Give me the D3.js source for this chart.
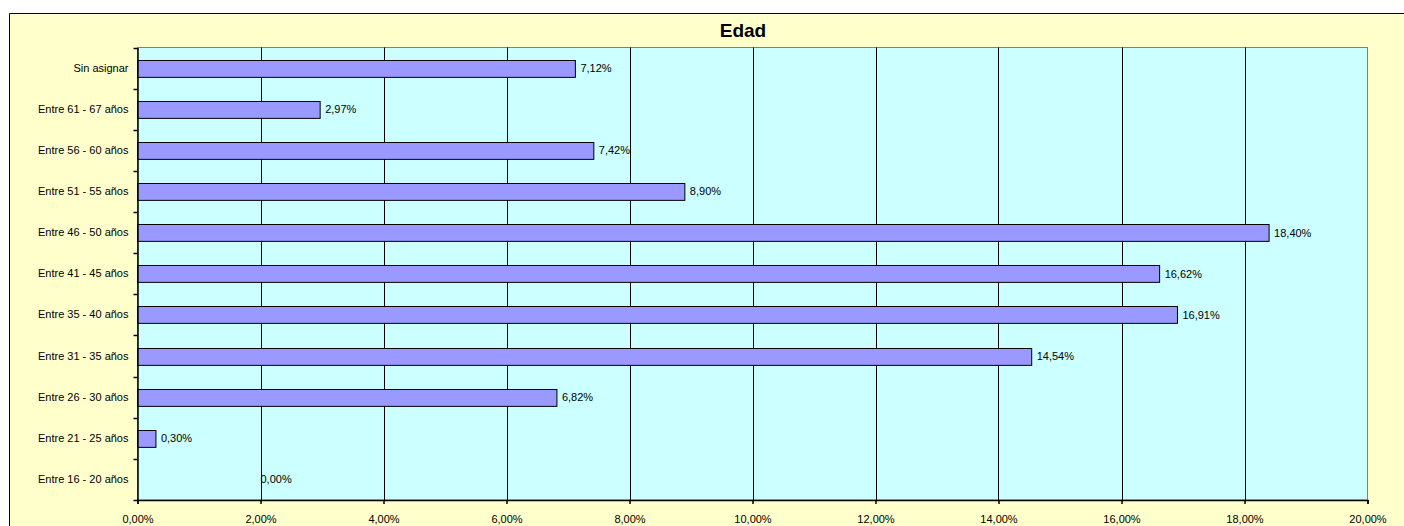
<!DOCTYPE html>
<html>
<head>
<meta charset="utf-8">
<script src="https://cdn.jsdelivr.net/npm/d3@7/dist/d3.min.js"></script>
<style>
  html, body { margin: 0; padding: 0; background: #ffffff; overflow: hidden; }
  svg { display: block; overflow: hidden; }
  text { font-family: Arial, "Liberation Sans", sans-serif; fill: #000; }
</style>
</head>
<body>
<script>
const title = "Edad";
const categories = [
  "Sin asignar",
  "Entre 61 - 67 años",
  "Entre 56 - 60 años",
  "Entre 51 - 55 años",
  "Entre 46 - 50 años",
  "Entre 41 - 45 años",
  "Entre 35 - 40 años",
  "Entre 31 - 35 años",
  "Entre 26 - 30 años",
  "Entre 21 - 25 años",
  "Entre 16 - 20 años"
];
const values = [7.12, 2.97, 7.42, 8.90, 18.40, 16.62, 16.91, 14.54, 6.82, 0.30, 0.00];
const xTicks = [0, 2, 4, 6, 8, 10, 12, 14, 16, 18, 20];

const W = 1404, H = 526;
const plot = { left: 137.5, top: 47.5, right: 1367.5, bottom: 500 };

const fmt = v => v.toFixed(2).replace(".", ",") + "%";

const svg = d3.select("body").append("svg").attr("width", W).attr("height", H);

// chart area (extends past the right and bottom edges of the window)
svg.append("path")
  .attr("d", `M9.5,${H + 20} V13.5 H${W + 20}`)
  .attr("fill", "none").attr("stroke", "#000").attr("stroke-width", 1);
svg.insert("rect", "path")
  .attr("x", 9.5).attr("y", 13.5)
  .attr("width", W).attr("height", H)
  .attr("fill", "#FFFFCC");

const x = d3.scaleLinear().domain([0, 20]).range([plot.left, plot.right]);
const y = d3.scaleBand().domain(categories).range([plot.top, plot.bottom])
  .paddingInner(0.59).paddingOuter(0.295);

// plot area
svg.append("rect")
  .attr("x", plot.left).attr("y", plot.top)
  .attr("width", plot.right - plot.left).attr("height", plot.bottom - plot.top)
  .attr("fill", "#CCFFFF").attr("stroke", "#808080").attr("stroke-width", 1);

// gridlines
svg.append("g").selectAll("line").data(xTicks.filter(t => t > 0 && t < 20)).join("line")
  .attr("x1", d => Math.round(x(d)) + 0.5).attr("x2", d => Math.round(x(d)) + 0.5)
  .attr("y1", plot.top).attr("y2", plot.bottom)
  .attr("stroke", "#000").attr("stroke-width", 1);

// bars
svg.append("g").selectAll("rect").data(values).join("rect")
  .attr("x", x(0))
  .attr("y", (d, i) => Math.round(y(categories[i])) + 0.5)
  .attr("width", d => x(d) - x(0))
  .attr("height", y.bandwidth())
  .attr("fill", "#9999FF")
  .attr("stroke", "#000").attr("stroke-width", 1)
  .attr("visibility", d => d > 0 ? "visible" : "hidden");

// value labels
svg.append("g").selectAll("text").data(values).join("text")
  .attr("x", d => d > 0 ? x(d) + 5 : x(2))
  .attr("y", (d, i) => y(categories[i]) + y.bandwidth() / 2 + 4)
  .attr("font-size", 11)
  .text(d => fmt(d));

// y axis
const yAxis = d3.axisLeft(y).tickSize(0).tickPadding(9).tickFormat(d => d);
const gy = svg.append("g").attr("transform", `translate(${plot.left},0)`).call(yAxis);
gy.select(".domain").attr("stroke", "#000").attr("stroke-width", 1.5);
gy.selectAll("text").attr("font-size", 11).attr("font-family", "Arial, 'Liberation Sans', sans-serif").attr("fill", "#000");
// boundary ticks on y axis
const bounds = categories.map(c => y(c) - y.step() * y.paddingInner() / 2).concat([plot.bottom]);
svg.append("g").selectAll("line").data(bounds).join("line")
  .attr("x1", plot.left - 4).attr("x2", plot.left)
  .attr("y1", d => Math.round(d) + 0.5).attr("y2", d => Math.round(d) + 0.5)
  .attr("stroke", "#000").attr("stroke-width", 1.5);

// x axis
const xAxis = d3.axisBottom(x).tickValues(xTicks).tickSize(4).tickPadding(11)
  .tickFormat(d => fmt(d));
const gx = svg.append("g").attr("transform", `translate(0,${plot.bottom})`).call(xAxis);
gx.select(".domain").attr("stroke", "#000").attr("stroke-width", 1.5);
gx.selectAll(".tick line").attr("stroke", "#000").attr("stroke-width", 1.5);
gx.selectAll("text").attr("font-size", 11).attr("font-family", "Arial, 'Liberation Sans', sans-serif").attr("fill", "#000");

// title
svg.append("text")
  .attr("x", 743).attr("y", 37)
  .attr("text-anchor", "middle")
  .attr("font-size", 19).attr("font-weight", "bold")
  .text(title);
</script>
</body>
</html>
